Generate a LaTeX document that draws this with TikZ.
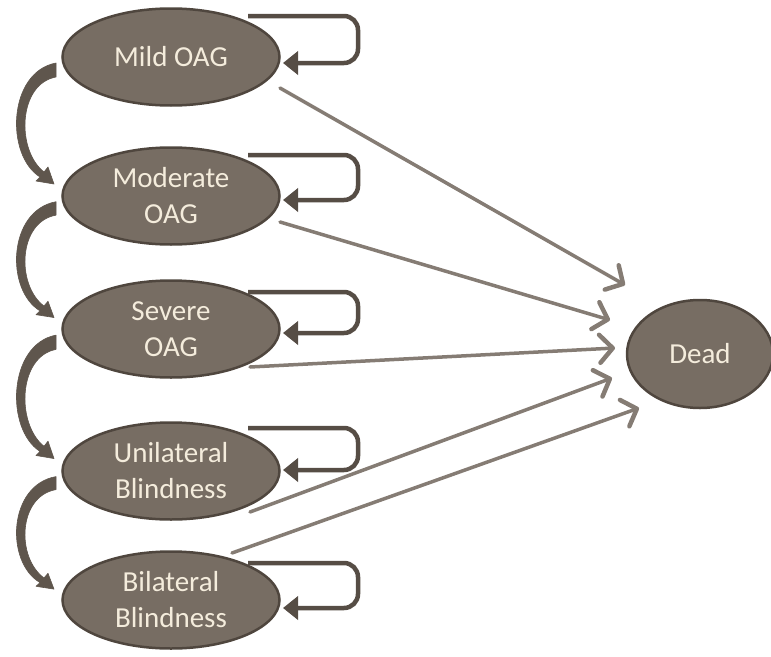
\documentclass[tikz,border=0pt]{standalone}
\usepackage{fontspec}
\setmainfont{Carlito}
\usetikzlibrary{shapes.geometric,arrows.meta,calc}
\definecolor{efill}{HTML}{776D63}
\definecolor{eline}{HTML}{4F463E}
\definecolor{etext}{HTML}{F4ECDC}
\definecolor{loopc}{HTML}{564D45}
\definecolor{deadc}{HTML}{857C74}
\definecolor{curvc}{HTML}{5F564D}
\tikzset{
  state/.style={ellipse, draw=eline, line width=2.5pt, fill=efill, text=etext,
    minimum width=217pt, minimum height=97pt, inner sep=0pt, align=center,
    font=\fontsize{29}{36}\selectfont},
  selfloop/.style={draw=loopc, line width=4.5pt, rounded corners=14pt,
    -{Triangle[length=15pt,width=23pt]}},
  todead/.style={draw=deadc, line width=3.5pt, line cap=round,
    -{Straight Barb[length=13pt,width=28pt,line width=4.5pt,round]}},
  downarrow/.style={fill=curvc, draw=curvc, line width=0.6pt, line join=round}
}
\newcommand{\progarrow}[2]{%
  \begin{scope}[shift={(#1.center)}, yscale=#2]
  \path[downarrow] (-115,6) .. controls (-163,15) and (-166,98) .. (-131,120)
     -- (-135,124) -- (-117,127) -- (-123,110) -- (-127,115)
     .. controls (-155,93) and (-153,27) .. (-115,20) -- cycle;
  \end{scope}}
\begin{document}
\begin{tikzpicture}[x=1pt,y=-1pt]
\useasboundingbox (0,0) rectangle (771,656);
\node[state] (mild) at (171,57) {Mild OAG};
\node[state] (mod) at (171,196) {Moderate\\OAG};
\node[state] (sev) at (171,329) {Severe\\OAG};
\node[state] (uni) at (171,471) {Unilateral\\Blindness};
\node[state] (bil) at (171,600) {Bilateral\\Blindness};
\node[state, minimum width=146pt, minimum height=108pt] (dead) at (700,354) {Dead};

% self loops
\foreach \n/\t/\b in {mild/-41/6, mod/-41/4, sev/-37/4, uni/-43/-1, bil/-37/8} {
  \draw[selfloop] ([shift={(77,\t)}]\n.center) -- ([shift={(187,\t)}]\n.center)
     -- ([shift={(187,\b)}]\n.center) -- ([shift={(112,\b)}]\n.center);
}

% to dead
\draw[todead] ([shift={(109,31)}]mild.center) -- ([shift={(-75,-69)}]dead.center);
\draw[todead] ([shift={(109,26)}]mod.center) -- ([shift={(-90,-34)}]dead.center);
\draw[todead] ([shift={(79,38)}]sev.center) -- ([shift={(-85,-6)}]dead.center);
\draw[todead] ([shift={(79,41)}]uni.center) -- ([shift={(-88,24)}]dead.center);
\draw[todead] ([shift={(61,-47)}]bil.center) -- ([shift={(-61,54)}]dead.center);

% progression (mild->mod, mod->sev, sev->uni, uni->bil)
\progarrow{mild}{1}
\progarrow{mod}{0.957}
\progarrow{sev}{1.02}
\progarrow{uni}{0.93}
\end{tikzpicture}
\end{document}
